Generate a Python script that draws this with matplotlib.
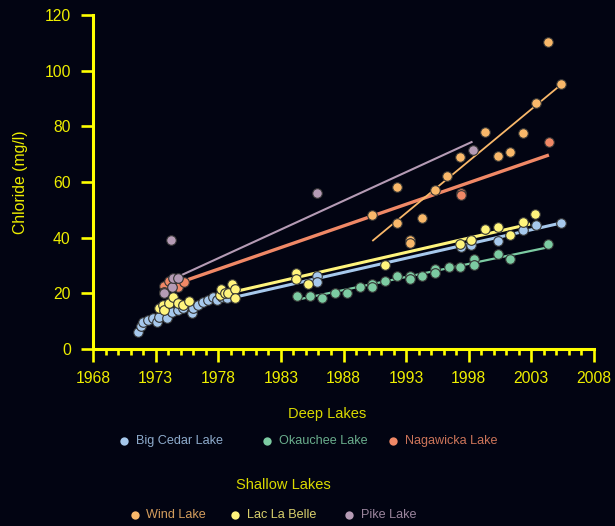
import numpy as np
import matplotlib.pyplot as plt
from matplotlib.lines import Line2D
from matplotlib.ticker import MultipleLocator

# ─────────────────────────────────────────────
# DONNEES
# ─────────────────────────────────────────────
big_cedar_x = [1971.6, 1971.8, 1972.0, 1972.4, 1972.8, 1973.1, 1973.3, 1973.9, 1974.3, 1974.8,
               1975.2, 1975.9, 1976.0, 1976.4, 1976.8, 1977.2, 1977.6, 1977.9, 1978.3, 1978.7,
               1985.9, 1985.9, 1997.4, 1998.2, 2000.3, 2002.3, 2003.4, 2005.4]
big_cedar_y = [6.2, 8.3, 9.8, 10.4, 11.0, 9.8, 11.6, 11.0, 13.4, 14.0,
               14.6, 12.8, 14.6, 15.8, 17.0, 17.6, 18.8, 17.6, 18.8, 18.2,
               26.2, 24.1, 36.8, 37.2, 38.9, 42.8, 44.7, 45.3]

okauchee_x = [1984.3, 1985.3, 1986.3, 1987.3, 1988.3, 1989.3, 1990.3, 1990.3, 1991.3, 1992.3,
              1993.3, 1993.3, 1994.3, 1995.3, 1995.3, 1996.4, 1997.3, 1998.4, 1998.4, 2000.3,
              2001.3, 2004.3]
okauchee_y = [19.2, 19.2, 18.2, 20.2, 20.2, 22.1, 23.4, 22.1, 24.3, 26.2,
              26.2, 25.0, 26.2, 28.6, 27.2, 29.4, 29.4, 32.2, 30.2, 34.0,
              32.5, 37.6]

nagawicka_x = [1973.7, 1973.7, 1974.1, 1974.8, 1975.3, 1997.4, 1997.4, 2004.4]
nagawicka_y = [22.6, 20.6, 24.5, 22.1, 24.2, 56.2, 55.2, 74.2]

wind_x = [1990.3, 1992.3, 1992.3, 1993.3, 1993.3, 1994.3, 1995.3, 1996.3, 1997.3, 1999.3,
          2000.3, 2001.3, 2002.3, 2003.4, 2004.3, 2005.4]
wind_y = [48.1, 58.1, 45.1, 39.2, 38.0, 46.9, 57.0, 62.2, 69.1, 78.0,
          69.2, 70.6, 77.6, 88.4, 110.3, 95.1]

labelle_x = [1973.3, 1973.6, 1973.7, 1974.1, 1974.4, 1974.8, 1975.2, 1975.7, 1978.1, 1978.2,
             1978.5, 1978.8, 1979.1, 1979.3, 1979.3, 1984.2, 1984.2, 1985.2, 1991.3, 1997.3,
             1998.2, 1999.3, 2000.3, 2001.3, 2002.3, 2003.3]
labelle_y = [14.6, 15.8, 14.0, 16.4, 18.8, 16.4, 15.8, 17.2, 19.4, 21.4,
             20.0, 20.0, 23.4, 21.6, 18.2, 27.4, 25.3, 23.4, 30.3, 37.6,
             39.2, 43.2, 43.7, 41.0, 45.8, 48.5]

pike_x = [1973.7, 1974.3, 1974.4, 1974.8, 1974.25, 1985.9, 1998.3]
pike_y = [20.0, 22.1, 25.4, 25.4, 39.2, 56.2, 71.5]

# droites de tendance (debut, fin)
fit_big_cedar = ([1979.5, 2005.4], [18.8, 45.3])
fit_okauchee = ([1984.4, 2004.3], [17.8, 36.5])
fit_nagawicka = ([1975.5, 2004.4], [24.8, 69.7])
fit_wind = ([1990.3, 2005.4], [38.8, 95.1])
fit_labelle = ([1979.3, 2002.9], [20.6, 44.9])
fit_pike = ([1974.8, 1998.3], [26.0, 74.5])

deep_names = ["Big Cedar Lake", "Okauchee Lake", "Nagawicka Lake"]
shallow_names = ["Wind Lake", "Lac La Belle", "Pike Lake"]

# ─────────────────────────────────────────────
# STYLE
# ─────────────────────────────────────────────
BG = "#020412"
AXIS = "#FFFF00"
TXT = "#EEEE00"
TITLE = "#DADA00"
C_CEDAR = "#A6C8EC"
C_OKAU = "#7CCBA2"
C_NAGA = "#F08866"
C_WIND = "#F9B86A"
C_BELLE = "#FFF47C"
C_PIKE = "#B59BB5"

plt.rcParams["font.family"] = ["Liberation Sans", "DejaVu Sans"]

W, H = 615, 526
fig = plt.figure(figsize=(W / 100, H / 100), dpi=100, facecolor=BG)
ax = fig.add_axes([93 / W, 1 - 349 / H, 501 / W, 334 / H])
ax.set_facecolor(BG)

series = [
    (big_cedar_x, big_cedar_y, fit_big_cedar, C_CEDAR, 2.2),
    (okauchee_x, okauchee_y, fit_okauchee, C_OKAU, 1.6),
    (nagawicka_x, nagawicka_y, fit_nagawicka, C_NAGA, 2.4),
    (wind_x, wind_y, fit_wind, C_WIND, 1.3),
    (labelle_x, labelle_y, fit_labelle, C_BELLE, 2.2),
    (pike_x, pike_y, fit_pike, C_PIKE, 1.5),
]
for xs, ys, fit, col, lw in series:
    ax.plot(fit[0], fit[1], color=col, lw=lw, zorder=2, solid_capstyle="butt")
for xs, ys, fit, col, lw in series:
    ax.scatter(xs, ys, s=48, color=col, edgecolor="#333333", linewidth=0.8, zorder=3)

ax.set_xlim(1968, 2008)
ax.set_ylim(0, 120)
ax.set_xticks(np.arange(1968, 2009, 5))
ax.set_yticks(np.arange(0, 121, 20))
ax.xaxis.set_minor_locator(MultipleLocator(1))

for side in ["top", "right"]:
    ax.spines[side].set_visible(False)
for side in ["left", "bottom"]:
    ax.spines[side].set_color(AXIS)
    ax.spines[side].set_linewidth(2.2)

ax.tick_params(axis="both", which="major", colors=AXIS, labelcolor=TXT,
               length=9, width=1.9, pad=7, labelsize=11.3)
ax.tick_params(axis="x", which="minor", colors=AXIS, length=4.5, width=1.9)
ax.set_ylabel("Chloride (mg/l)", color=TXT, fontsize=11.3, labelpad=12)

# ─────────────────────────────────────────────
# LEGENDES (deux groupes)
# ─────────────────────────────────────────────
def legend_item(xm, y, name, col):
    fig.add_artist(Line2D([xm / W], [1 - y / H], marker="o", markersize=6,
                          color=col, markeredgewidth=0, transform=fig.transFigure))
    fig.text((xm + 12) / W, 1 - y / H, name, color=col, fontsize=9.1,
             va="center", ha="left", alpha=0.85)

fig.text(327 / W, 1 - 414 / H, "Deep Lakes", color=TITLE, fontsize=10.5,
         ha="center", va="center")
for xm, name, col in zip([123.5, 267, 393], deep_names, [C_CEDAR, C_OKAU, C_NAGA]):
    legend_item(xm, 441, name, col)

fig.text(283 / W, 1 - 485 / H, "Shallow Lakes", color=TITLE, fontsize=10.5,
         ha="center", va="center")
for xm, name, col in zip([134.5, 235, 349], shallow_names, [C_WIND, C_BELLE, C_PIKE]):
    legend_item(xm, 515, name, col)

fig.savefig("out.png", dpi=100, facecolor=BG)
